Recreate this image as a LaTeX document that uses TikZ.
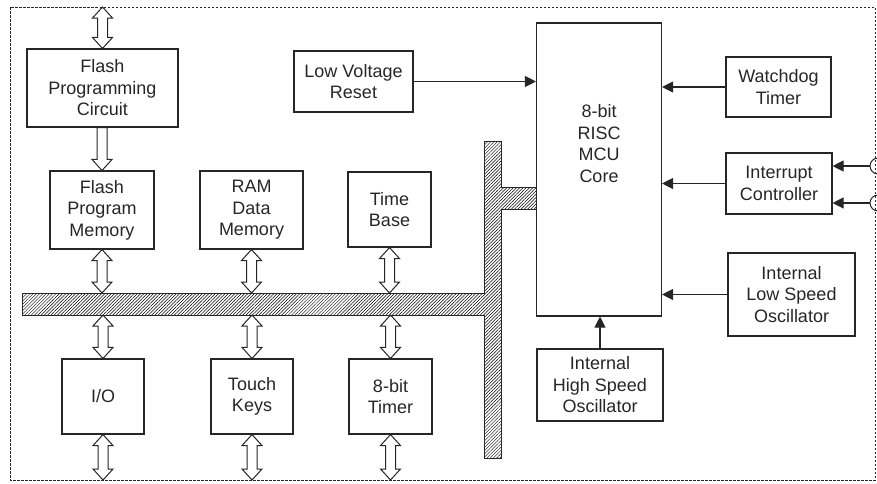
\documentclass[tikz,border=0pt]{standalone}
\usepackage{fontspec}
\setmainfont{Liberation Sans}
\usetikzlibrary{arrows.meta,patterns.meta,calc}

\tikzset{
  box/.style={draw, line width=1.1pt, align=center, inner sep=0pt},
  sig/.style={line width=1.1pt, -{Triangle[length=11pt,width=11pt]}},
  busarrow/.style={draw, line width=1pt, fill=white},
  hatch/.style={draw, line width=1pt, pattern={Lines[angle=45,distance=2.3pt,line width=0.5pt]}},
  pinc/.style={draw, circle, line width=1pt, minimum size=16pt, inner sep=0pt}
}

% hollow bus arrow, heads at both ends
\newcommand{\dbus}[2]{%
  \path[busarrow] let \p1=#1, \p2=#2 in
    (\x1,\y1) -- (\x1-10pt,\y1-11pt) -- (\x1-5pt,\y1-11pt) -- (\x1-5pt,\y2+11pt)
    -- (\x1-10pt,\y2+11pt) -- (\x1,\y2) -- (\x1+10pt,\y2+11pt) -- (\x1+5pt,\y2+11pt)
    -- (\x1+5pt,\y1-11pt) -- (\x1+10pt,\y1-11pt) -- cycle;}
% hollow bus arrow, head at the lower end only
\newcommand{\sbus}[2]{%
  \path[busarrow] let \p1=#1, \p2=#2 in
    (\x1-5pt,\y1) -- (\x1-5pt,\y2+11pt) -- (\x1-10pt,\y2+11pt) -- (\x1,\y2)
    -- (\x1+10pt,\y2+11pt) -- (\x1+5pt,\y2+11pt) -- (\x1+5pt,\y1) -- cycle;}

\begin{document}
\begin{tikzpicture}[x=1pt,y=-1pt,font=\fontsize{18}{21.5}\selectfont,color=black!85]
\useasboundingbox (0,0) rectangle (877,483);

% outline
\draw[line width=0.8pt, dash pattern=on 2.5pt off 1.5pt] (10,7) rectangle (875,480);
\coordinate (top) at (0,7);
\coordinate (bot) at (0,480);

% blocks
\node[box, minimum width=151, minimum height=78] (fpc) at (102.5,88) {Flash\\Programming\\Circuit};
\node[box, minimum width=104, minimum height=78] (fpm) at (102,210) {Flash\\Program\\Memory};
\node[box, minimum width=103, minimum height=78] (ram) at (251.5,210) {RAM\\Data\\Memory};
\node[box, minimum width=83, minimum height=75] (tbase) at (389.5,209.5) {Time\\Base};
\node[box, minimum width=82, minimum height=75] (io) at (103,396.5) {I/O};
\node[box, minimum width=82, minimum height=75] (tkeys) at (252,396.5) {Touch\\Keys};
\node[box, minimum width=83, minimum height=75] (tmr) at (390.5,396.5) {8-bit\\Timer};
\node[box, minimum width=119, minimum height=61] (lvr) at (353.5,81.5) {Low Voltage\\Reset};
\node[box, minimum width=125, minimum height=293] (core) at (599,169.5) {};
\node[align=center] (coretxt) at (599,143.5) {8-bit\\RISC\\MCU\\Core};
\node[box, minimum width=105, minimum height=60] (wdt) at (778.5,87) {Watchdog\\Timer};
\node[box, minimum width=106, minimum height=61] (intc) at (779,183.5) {Interrupt\\Controller};
\node[box, minimum width=127, minimum height=83] (lso) at (791.5,294.5) {Internal\\Low Speed\\Oscillator};
\node[box, minimum width=126, minimum height=72] (hso) at (600,385) {Internal\\High Speed\\Oscillator};

% data bus
\draw[hatch] (22,293) -- (484,293) -- (484,141) -- (501,141) -- (501,187) -- (536.5,187)
  -- (536.5,209) -- (501,209) -- (501,458) -- (484,458) -- (484,315) -- (22,315) -- cycle;
\coordinate (busn) at (0,293);
\coordinate (buss) at (0,315);

% bus arrows
\dbus{(fpc.north |- top)}{(fpc.north)}
\sbus{(fpc.south -| fpm.north)}{(fpm.north)}
\foreach \b in {fpm,ram,tbase} {
  \dbus{(\b.south)}{(\b.south |- busn)}
}
\foreach \b in {io,tkeys,tmr} {
  \dbus{(\b.north |- buss)}{(\b.north)}
  \dbus{(\b.south)}{(\b.south |- bot)}
}

% control signals
\draw[sig] (lvr.east) -- (lvr.east -| core.west);
\draw[sig] (wdt.west) -- (wdt.west -| core.east);
\draw[sig] (intc.west) -- (intc.west -| core.east);
\draw[sig] (lso.west) -- (lso.west -| core.east);
\draw[sig] (hso.north) -- (hso.north |- core.south);

% interrupt pins
\node[pinc] (int0) at (878,166) {};
\node[pinc] (int1) at (878,203) {};
\draw[sig] (int0.west) -- (int0.west -| intc.east);
\draw[sig] (int1.west) -- (int1.west -| intc.east);
\end{tikzpicture}
\end{document}
